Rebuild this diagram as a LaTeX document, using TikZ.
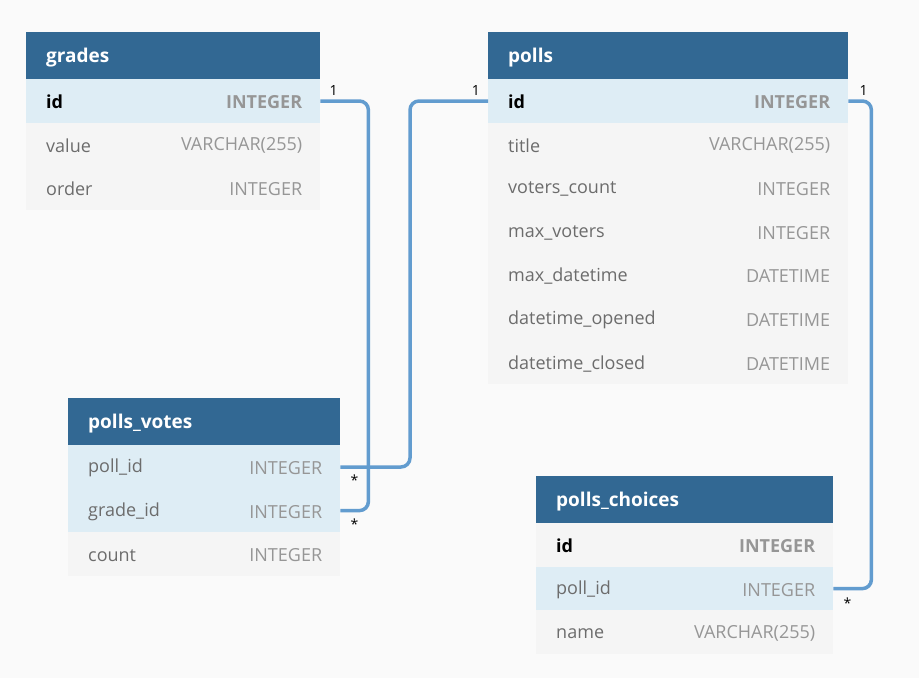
\documentclass[tikz,border=0pt]{standalone}
\usepackage{fontspec}
\setmainfont{Open Sans}
\usetikzlibrary{positioning}
\definecolor{headblue}{RGB}{50,104,147}
\definecolor{rowblue}{RGB}{222,237,245}
\definecolor{rowgray}{RGB}{245,245,245}
\definecolor{pagebg}{RGB}{250,250,250}
\definecolor{linkblue}{RGB}{98,156,207}
\definecolor{fieldgray}{RGB}{108,108,108}
\definecolor{typegray}{RGB}{150,150,150}
\begin{document}
\begin{tikzpicture}[
            x=1pt,
            y=-1pt,
            tblhead/.style={rectangle, fill=headblue, anchor=north west, minimum height=47pt, inner sep=0pt},
            tblrow/.style={rectangle, anchor=north west, minimum height=43.6pt, inner sep=0pt},
            title/.style={anchor=west, text=white, font=\bfseries\fontsize{19}{22}\selectfont, inner sep=0pt, xshift=20pt, yshift=-1.5pt},
            field/.style={anchor=west, text=fieldgray, font=\fontsize{18}{21}\selectfont, inner sep=0pt, xshift=20pt, yshift=-1pt},
            pkfield/.style={field, text=black, font=\bfseries\fontsize{18}{21}\selectfont},
            ftype/.style={anchor=east, text=typegray, font=\fontsize{18}{21}\selectfont, inner sep=0pt, xshift=-18pt, yshift=-1pt},
            pktype/.style={ftype, font=\bfseries\fontsize{18}{21}\selectfont},
            rel/.style={draw=linkblue, line width=3.5pt, rounded corners=9pt},
            mult/.style={font=\fontsize{14}{16}\selectfont, inner sep=0pt}
        ]
        \path[use as bounding box, fill=pagebg] (0,0) rectangle (919,678);
        % grades
        \node[tblhead, minimum width=294pt] (grades) at (26,32) {};
        \node[title] (grades_title) at (grades.west) {grades};
        \node[tblrow, fill=rowblue, minimum width=294pt] (grades_id) at (26,79) {};
        \node[pkfield] (grades_id_name) at (grades_id.west) {id};
        \node[pktype] (grades_id_type) at (grades_id.east) {INTEGER};
        \foreach \f/\t [count=\i] in {value/VARCHAR(255), order/INTEGER} {
            \node[tblrow, fill=rowgray, minimum width=294pt] (grades_r\i) at (26,79+43.6*\i) {};
            \node[field] (grades_n\i) at (grades_r\i.west) {\f};
            \node[ftype] (grades_t\i) at (grades_r\i.east) {\t};
        }
        % polls
        \node[tblhead, minimum width=360pt] (polls) at (488,32) {};
        \node[title] (polls_title) at (polls.west) {polls};
        \node[tblrow, fill=rowblue, minimum width=360pt] (polls_id) at (488,79) {};
        \node[pkfield] (polls_id_name) at (polls_id.west) {id};
        \node[pktype] (polls_id_type) at (polls_id.east) {INTEGER};
        \foreach \f/\t [count=\i] in {title/VARCHAR(255), voters\_count/INTEGER, max\_voters/INTEGER,
                max\_datetime/DATETIME, datetime\_opened/DATETIME, datetime\_closed/DATETIME} {
            \node[tblrow, fill=rowgray, minimum width=360pt] (polls_r\i) at (488,79+43.6*\i) {};
            \node[field] (polls_n\i) at (polls_r\i.west) {\f};
            \node[ftype] (polls_t\i) at (polls_r\i.east) {\t};
        }
        % polls_votes
        \node[tblhead, minimum width=272pt] (votes) at (68,398) {};
        \node[title] (votes_title) at (votes.west) {polls\_votes};
        \foreach \f/\t/\c [count=\i] in {poll\_id/INTEGER/rowblue, grade\_id/INTEGER/rowblue, count/INTEGER/rowgray} {
            \node[tblrow, fill=\c, minimum width=272pt] (votes_r\i) at (68,445+43.6*\i-43.6) {};
            \node[field] (votes_n\i) at (votes_r\i.west) {\f};
            \node[ftype] (votes_t\i) at (votes_r\i.east) {\t};
        }
        % polls_choices
        \node[tblhead, minimum width=297pt] (choices) at (536,476) {};
        \node[title] (choices_title) at (choices.west) {polls\_choices};
        \node[tblrow, fill=rowgray, minimum width=297pt] (choices_id) at (536,523) {};
        \node[pkfield] (choices_id_name) at (choices_id.west) {id};
        \node[pktype] (choices_id_type) at (choices_id.east) {INTEGER};
        \foreach \f/\t/\c [count=\i] in {poll\_id/INTEGER/rowblue, name/VARCHAR(255)/rowgray} {
            \node[tblrow, fill=\c, minimum width=297pt] (choices_r\i) at (536,523+43.6*\i) {};
            \node[field] (choices_n\i) at (choices_r\i.west) {\f};
            \node[ftype] (choices_t\i) at (choices_r\i.east) {\t};
        }
        % relations
        \draw[rel] (grades_id.east) -- ++(48,0) |- (votes_r2.east);
        \draw[rel] (polls_id.west) -- ++(-78,0) |- (votes_r1.east);
        \draw[rel] (polls_id.east) -- ++(23,0) |- (choices_r1.east);
        \node[mult, above right=5pt and 9pt of grades_id.east] (m_grades) {1};
        \node[mult, above left=5pt and 8pt of polls_id.west] (m_polls_l) {1};
        \node[mult, above right=5pt and 11pt of polls_id.east] (m_polls_r) {1};
        \node[mult, below right=8pt and 10pt of votes_r1.east] (m_votes1) {*};
        \node[mult, below right=8pt and 10pt of votes_r2.east] (m_votes2) {*};
        \node[mult, below right=9pt and 10pt of choices_r1.east] (m_choices) {*};
    \end{tikzpicture}
\end{document}
